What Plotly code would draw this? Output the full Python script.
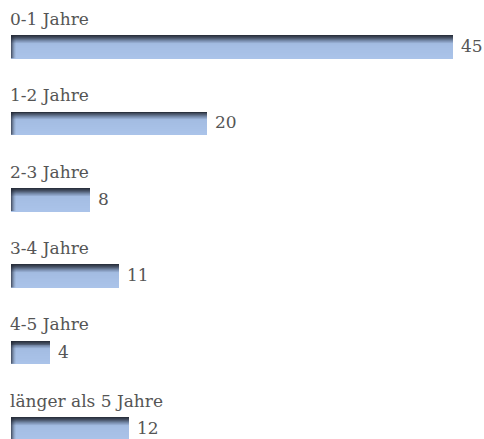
import plotly.graph_objects as go
import numpy as np

categories = ["0-1 Jahre", "1-2 Jahre", "2-3 Jahre", "3-4 Jahre", "4-5 Jahre", "länger als 5 Jahre"]
values = [45, 20, 8, 11, 4, 12]

FONT = "DejaVu Serif"
TXT = "#555555"
BAR_W = 0.295
N_STRIPS = 24
# gradient stops (fraction from top, rgb)
stops = [(0.0, (36, 42, 54)), (0.12, (70, 82, 102)), (0.24, (120, 140, 172)),
         (0.36, (163, 188, 226)), (1.0, (170, 195, 233))]
edge_alpha = [0.65, 0.45, 0.28, 0.14, 0.05]

def col(f):
    for (f0, c0), (f1, c1) in zip(stops[:-1], stops[1:]):
        if f0 <= f <= f1:
            t = (f - f0) / (f1 - f0) if f1 > f0 else 0
            c = [round(a + (b - a) * t) for a, b in zip(c0, c1)]
            return f"rgb({c[0]},{c[1]},{c[2]})"
    return f"rgb{stops[-1][1]}"

pos = np.arange(len(categories))
fig = go.Figure()
sw = BAR_W / N_STRIPS
for k in range(N_STRIPS):
    f = (k + 0.5) / N_STRIPS
    off = -BAR_W / 2 + (k + 0.5) * sw
    fig.add_trace(go.Bar(
        x=values, y=pos + off, orientation="h", width=sw * 1.05,
        marker=dict(color=col(f), line=dict(width=0)),
        hoverinfo="skip", showlegend=False))

shapes = []
annotations = []
for i, (c, v) in enumerate(zip(categories, values)):
    for k, a in enumerate(edge_alpha):
        shapes.append(dict(type="rect", xref="x", yref="y", xsizemode="pixel", xanchor=0,
                           x0=k, x1=k + 1, y0=i - BAR_W / 2, y1=i + BAR_W / 2,
                           fillcolor=f"rgba(30,36,48,{a})", line=dict(width=0), layer="above"))
    annotations.append(dict(x=0, y=i - BAR_W / 2, text=c, showarrow=False,
                            xanchor="left", yanchor="bottom", xshift=-3, yshift=5,
                            font=dict(family=FONT, size=17, color=TXT)))
    annotations.append(dict(x=v, y=i, text=str(v), showarrow=False,
                            xanchor="left", yanchor="middle", xshift=6, yshift=1,
                            font=dict(family=FONT, size=17, color=TXT)))

fig.update_layout(
    width=484, height=439,
    margin=dict(l=11, r=0, t=0, b=0),
    paper_bgcolor="white", plot_bgcolor="white",
    barmode="overlay", bargap=0,
    xaxis=dict(range=[0, 48.16], visible=False, fixedrange=True),
    yaxis=dict(range=[5.131, -0.615], visible=False, fixedrange=True),
    annotations=annotations, shapes=shapes,
)
fig.write_html("out.html", config={"displayModeBar": False},
               post_script="document.body.style.margin='0';document.body.style.overflow='hidden';")
